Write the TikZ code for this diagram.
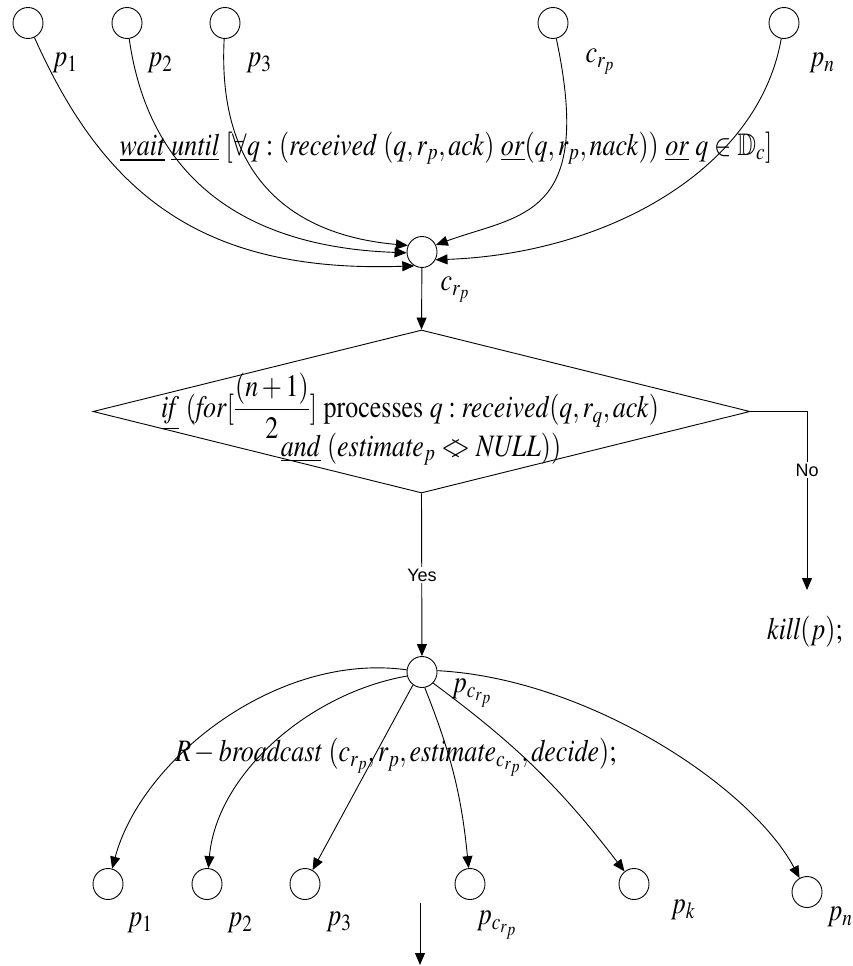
\documentclass[tikz,border=0pt]{standalone}
\usepackage{amsmath}
\usepackage{mathptmx}
\usepackage{amssymb}
\usepackage{graphicx}
\usepackage{fontspec}
\setmainfont{Liberation Serif}
\newfontfamily\arialfont{Liberation Sans}
\usetikzlibrary{arrows.meta,shapes.geometric}
\newcommand{\vs}[1]{\scalebox{1}[1.2]{#1}}
\begin{document}
\begin{tikzpicture}[x=1pt,y=1pt,
  proc/.style={draw, ellipse, minimum width=30pt, minimum height=31pt, inner sep=0pt, line width=0.9pt},
  conn/.style={line width=0.9pt},
  arr/.style={conn, -{Triangle[length=12pt,width=10pt]}},
  lbl/.style={inner sep=0pt, font=\fontsize{26}{30}\selectfont},
  yn/.style={fill=white, inner sep=2pt, font=\arialfont\fontsize{18}{21}\selectfont}]
\useasboundingbox (0,0) rectangle (853,-966);
% top row
\node[proc] (t1) at (28,-23) {};
\node[proc] (t2) at (127,-23) {};
\node[proc] (t3) at (225,-23) {};
\node[proc] (t4) at (553,-23) {};
\node[proc] (t5) at (784,-23) {};
\node[lbl] (lt1) at (65,-63) {\vs{$p_1$}};
\node[lbl] (lt2) at (160,-63) {\vs{$p_2$}};
\node[lbl] (lt3) at (259,-63) {\vs{$p_3$}};
\node[lbl] (lt4) at (600,-62) {\vs{$c_{r_p}$}};
\node[lbl] (lt5) at (822,-63) {\vs{$p_n$}};
% central collector
\node[proc] (c) at (422,-252) {};
\node[lbl] (lc) at (455,-290) {\vs{$c_{r_p}$}};
\node[lbl] (wait) at (446,-148) {\vs{$\underline{\mathit{wait}}\ \underline{\mathit{until}}\ [\forall q : (\mathit{received}\ (q,r_p,\mathit{ack})\ \underline{\mathit{or}}(q,r_p,\mathit{nack}))\ \underline{\mathit{or}}\ q\in\mathbb{D}_c]$}};
\draw[arr] (t1) .. controls +(-66:190) and +(182:210) .. (c.241);
\draw[arr] (t2) .. controls +(-82:150) and +(178:170) .. (c.183);
\draw[arr] (t3) .. controls +(-93:160) and +(175:110) .. (c.155);
\draw[arr] (t4) .. controls +(-78:200) and +(20:90) .. (c.27);
\draw[arr] (t5) .. controls +(-100:150) and +(2:170) .. (c.330);
% decision
\node[draw, diamond, minimum width=657pt, minimum height=163pt, inner sep=0pt, line width=0.9pt] (dec) at (421.5,-411.5) {};
\node[lbl] (d1) at (410,-406) {\vs{$\underline{\mathit{if}}\ (\mathit{for}[\displaystyle\frac{(n+1)}{2}]\ \mathrm{processes}\ q : \mathit{received}(q,r_q,\mathit{ack})$}};
\node[lbl] (d2) at (421,-449) {\vs{$\underline{\mathit{and}}\ (\mathit{estimate}_p \mathrel{<\mkern-8mu>} \mathit{NULL}))$}};
\draw[arr] (c) -- (dec.north);
\coordinate (nk) at (807,-590);
\draw[arr] (dec.east) -| (nk);
\node[yn] (no) at (807,-470) {No};
\node[lbl] (kill) at (805,-632) {\vs{$\mathit{kill}(p);$}};
% broadcaster
\node[proc] (pc) at (422,-672) {};
\draw[arr] (dec.south) -- (pc);
\node[yn] (yes) at (422,-575) {Yes};
\node[lbl] (lpc) at (472,-693) {\vs{$p_{c_{r_p}}$}};
\node[proc] (b1) at (108,-884) {};
\node[proc] (b2) at (207,-884) {};
\node[proc] (b3) at (305,-884) {};
\node[proc] (b4) at (470,-884) {};
\node[proc] (b5) at (634,-884) {};
\node[proc] (b6) at (807,-892) {};
\node[lbl] (lb1) at (140,-923) {\vs{$p_1$}};
\node[lbl] (lb2) at (240,-923) {\vs{$p_2$}};
\node[lbl] (lb3) at (339,-922) {\vs{$p_3$}};
\node[lbl] (lb4) at (497,-925) {\vs{$p_{c_{r_p}}$}};
\node[lbl] (lb5) at (683,-910) {\vs{$p_k$}};
\node[lbl] (lb6) at (840,-917) {\vs{$p_n$}};
\node[lbl] (rb) at (396,-757) {\vs{$R-\mathit{broadcast}\ (c_{r_p},r_p,\mathit{estimate}_{c_{r_p}},\mathit{decide});$}};
\draw[arr] (pc.172) .. controls +(172:130) and +(75:130) .. (b1);
\draw[arr] (pc.195) .. controls +(190:100) and +(85:110) .. (b2);
\draw[arr] (pc.235) -- (b3);
\draw[arr] (pc.280) to[bend left=8] (b4);
\draw[arr] (pc.315) to[bend left=8] (b5);
\draw[arr] (pc.5) .. controls +(-3:150) and +(118:120) .. (b6);
\coordinate (f0) at (420,-903);
\coordinate (f1) at (420,-965);
\draw[arr] (f0) -- (f1);
\end{tikzpicture}
\end{document}
